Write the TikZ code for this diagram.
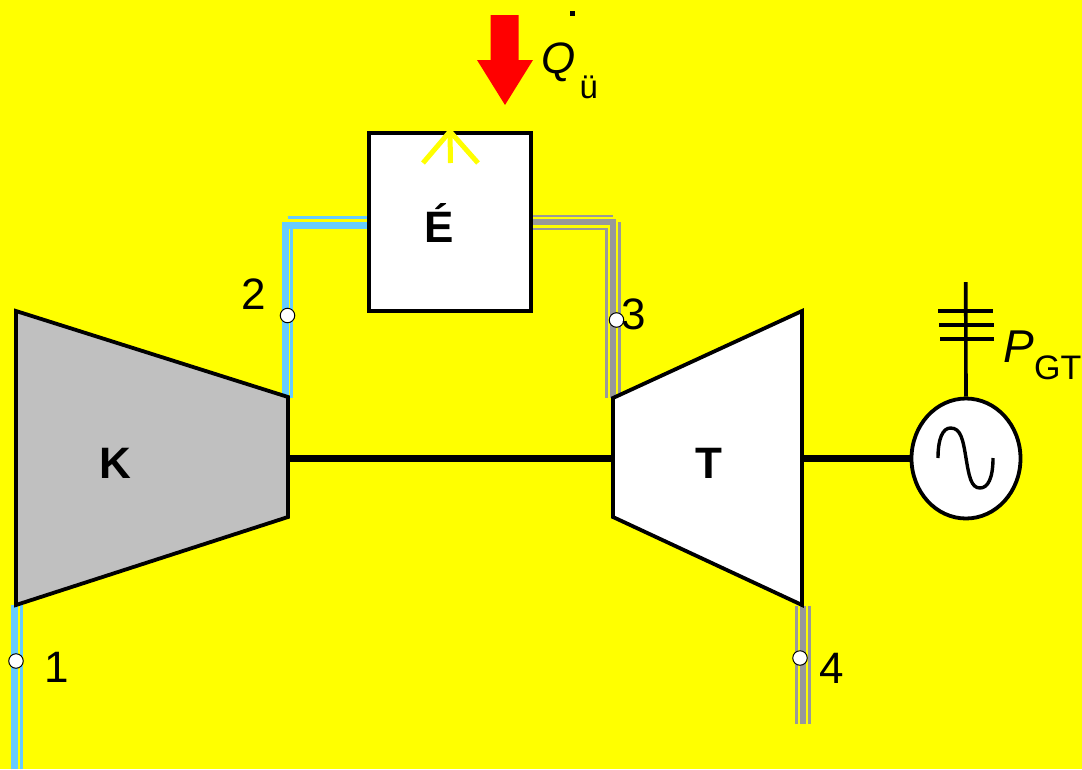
\documentclass[tikz,border=0pt]{standalone}
\usepackage{fontspec}
\setmainfont{Liberation Sans}
\usetikzlibrary{shapes.geometric}
\definecolor{bgy}{RGB}{255,255,0}
\definecolor{pipeblue}{RGB}{102,204,255}
\definecolor{pipegray}{RGB}{153,153,153}
\definecolor{machgray}{RGB}{192,192,192}
\newcommand{\fs}[1]{\fontsize{#1}{#1}\selectfont}
\tikzset{
  machine/.style={draw=black,line width=3.8pt,line join=miter},
  shaftline/.style={draw=black,line width=6.5pt},
  wire/.style={draw=black,line width=3.6pt},
  bluethick/.style={draw=pipeblue,line width=7pt},
  bluethin/.style={draw=pipeblue,line width=2.4pt},
  graythick/.style={draw=pipegray,line width=5.8pt},
  graythin/.style={draw=pipegray,line width=2.8pt},
  statept/.style={circle,draw=black,line width=1pt,fill=white,minimum size=14.5pt,inner sep=0pt},
  lab/.style={inner sep=0pt,font=\fs{44}},
  machlab/.style={inner sep=0pt,font=\fs{44}\bfseries},
}
\begin{document}
\begin{tikzpicture}[x=1pt,y=-1pt]
\useasboundingbox (0,0) rectangle (1082,769);
\fill[bgy] (0,0) rectangle (1082,769);
% pipe coordinates
\coordinate (p1a) at (14.5,769); \coordinate (p1b) at (14.5,605);
\coordinate (p1c) at (21.5,769); \coordinate (p1d) at (21.5,605);
\coordinate (p2a) at (285,398);  \coordinate (p2b) at (285,225);  \coordinate (p2c) at (368,225);
\coordinate (p2d) at (291.5,398);\coordinate (p2e) at (291.5,228);
\coordinate (p2f) at (287.5,217.5);\coordinate (p2g) at (369,217.5);
\coordinate (p3a) at (532,216);  \coordinate (p3b) at (612.7,216);
\coordinate (p3c) at (532,222.3);\coordinate (p3d) at (615.7,222.3);
\coordinate (p3e) at (532,229);  \coordinate (p3f) at (606.5,229); \coordinate (p3g) at (606.5,398);
\coordinate (p3h) at (612.8,222.3);\coordinate (p3i) at (612.8,398);
\coordinate (p3j) at (619.5,222);\coordinate (p3k) at (619.5,398);
\coordinate (p4a) at (796.7,606);\coordinate (p4b) at (796.7,724);
\coordinate (p4c) at (803.2,606);\coordinate (p4d) at (803.2,724);
\coordinate (p4e) at (809.7,606);\coordinate (p4f) at (809.7,724);
% pipes
\draw[bluethick] (p1a) -- (p1b);
\draw[bluethin] (p1c) -- (p1d);
\draw[bluethick] (p2a) -- (p2b) -- (p2c);
\draw[bluethin] (p2d) -- (p2e);
\draw[bluethin] (p2f) -- (p2g);
\draw[graythin] (p3a) -- (p3b);
\draw[graythick] (p3c) -- (p3d);
\draw[graythin] (p3e) -- (p3f) -- (p3g);
\draw[graythick] (p3h) -- (p3i);
\draw[graythin] (p3j) -- (p3k);
\draw[graythin] (p4a) -- (p4b);
\draw[graythick] (p4c) -- (p4d);
\draw[graythin] (p4e) -- (p4f);
% shaft anchors
\coordinate (kshaft) at (288,458.5);
\coordinate (tshaftl) at (613,458.5);
\coordinate (tshaftr) at (802,458.5);
% generator
\node[draw=black,line width=3.8pt,fill=white,ellipse,minimum width=109pt,minimum height=120pt,inner sep=0pt] (gen) at (966,458.5) {};
% shafts
\draw[shaftline] (kshaft) -- (tshaftl);
\draw[shaftline] (tshaftr) -- (gen.west);
% compressor and turbine
\draw[machine,fill=machgray] (16,311) -- (288,397) -- (288,517) -- (16,605) -- cycle;
\draw[machine,fill=white] (613,398) -- (802,311) -- (802,605) -- (613,517) -- cycle;
\node[machlab] (k) at (115,463) {K};
\node[machlab] (t) at (708.5,463) {T};
% combustor
\node[draw=black,line width=3.6pt,fill=white,minimum width=162pt,minimum height=177.5pt,inner sep=0pt] (box) at (450,222) {};
\node[machlab,anchor=base] (e) at (439,242) {É};
% yellow arrow
\coordinate (ya) at (450.5,163);
\coordinate (yl) at (423,163);
\coordinate (yr) at (478,163);
\draw[bgy,line width=5pt] (box.north) -- (ya);
\draw[bgy,line width=5pt,line join=miter] (yl) -- (box.north) -- (yr);
% red arrow
\fill[red] (490.7,15) -- (518.7,15) -- (518.7,60) -- (533,60) -- (505,105) -- (477,60) -- (490.7,60) -- cycle;
% heat label
\node[lab,anchor=base west,font=\fs{44}\itshape] (q) at (541,73) {Q};
\node[inner sep=0pt,anchor=base west,font=\fs{33}] (ue) at (579.5,98) {ü};
\fill[black] (569.5,10.5) rectangle (574.5,15.5);
% generator terminal
\coordinate (gt) at (965.7,282);
\coordinate (b1l) at (938,311); \coordinate (b1r) at (993,311);
\coordinate (b2l) at (939,325); \coordinate (b2r) at (993.5,325);
\coordinate (b3l) at (940,339); \coordinate (b3r) at (994,339);
\draw[wire] (gen.north) -- (gt);
\draw[wire] (b1l) -- (b1r);
\draw[wire] (b2l) -- (b2r);
\draw[wire] (b3l) -- (b3r);
\draw[black,line width=3.4pt] (938,458) .. controls (938,438) and (943,428) .. (950.5,428) .. controls (961,428) and (963,440) .. (966,458) .. controls (969,476) and (971,488) .. (980,488) .. controls (988,488) and (993,478) .. (993,458);
\node[lab,anchor=base west,font=\fs{46}\itshape] (pl) at (1003,362) {P};
\node[inner sep=0pt,anchor=base west,font=\fs{34}] (gtl) at (1034,379) {GT};
% state points
\node[statept] (s1) at (16,661) {};
\node[statept] (s2) at (287.5,315.5) {};
\node[statept] (s3) at (616.5,320) {};
\node[statept] (s4) at (800,658) {};
\node[lab,anchor=base] (n1) at (56.5,682) {1};
\node[lab,anchor=base] (n2) at (254,309) {2};
\node[lab,anchor=base] (n3) at (634,329) {3};
\node[lab,anchor=base] (n4) at (831.5,683) {4};
\end{tikzpicture}
\end{document}
